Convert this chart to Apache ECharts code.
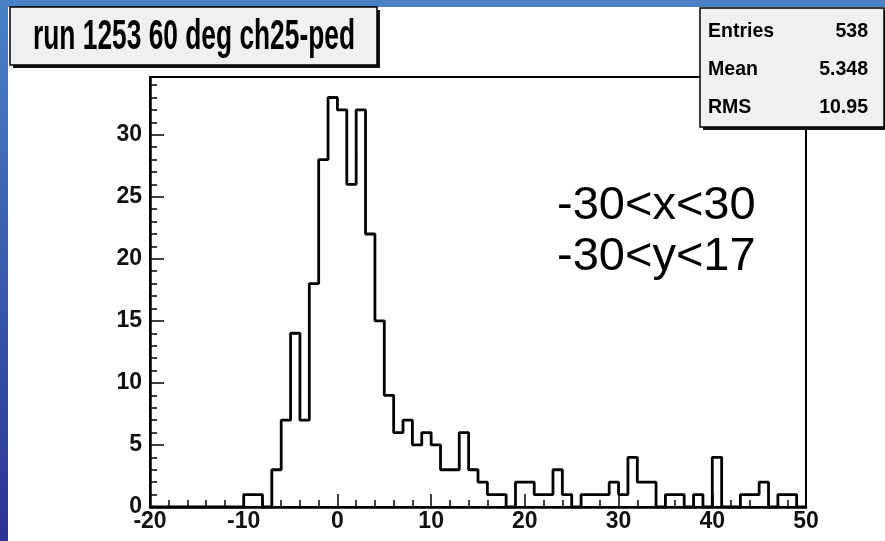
<!DOCTYPE html>
<html><head><meta charset="utf-8">
<script src="https://cdn.jsdelivr.net/npm/echarts@6/dist/echarts.min.js"></script>
<style>html,body{margin:0;padding:0;background:#fff;overflow:hidden}#c{width:885px;height:541px}</style>
</head><body><div id="c"></div>
<script>
// ---- data ----
const binEdges = [-20,-19,-18,-17,-16,-15,-14,-13,-12,-11,-10,-9,-8,-7,-6,-5,-4,-3,-2,-1,
  0,1,2,3,4,5,6,7,8,9,10,11,12,13,14,15,16,17,18,19,20,21,22,23,24,25,26,27,28,29,
  30,31,32,33,34,35,36,37,38,39,40,41,42,43,44,45,46,47,48,49,50];
const counts = [0,0,0,0,0,0,0,0,0,0, 1,1,0,3,7,14,7,18,28,33,
  32,26,32,22,15,9,6,7,5,6, 5,3,3,6,3,2,1,1,0,2,
  2,1,1,3,1,0,1,1,1,2, 1,4,2,2,0,1,1,0,1,0,
  4,0,0,1,1,2,0,1,1,0];
const xMin = -20, xMax = 50, xStep = 10;
const yMin = 0, yMax = 34.65, yStep = 5;
const titleText = 'run 1253 60 deg ch25-ped';
const statsLabels = ['Entries', 'Mean', 'RMS'];
const statsValues = ['538', '5.348', '10.95'];
const noteLines = ['-30<x<30', '-30<y<17'];

// ---- build ----
const histData = binEdges.map((e, i) => [e, counts[Math.min(i, counts.length - 1)]]);
const FONT = '"Liberation Sans", Arial, Helvetica, sans-serif';

function textWidth(font, s) {
  const c = document.createElement('canvas').getContext('2d');
  c.font = font; return c.measureText(s).width;
}
const titleFont = 'bold 43px ' + FONT;
const titleScale = 322 / textWidth(titleFont, titleText);
const statFont = 'bold 21px ' + FONT;

const chart = echarts.init(document.getElementById('c'), null, {renderer: 'canvas'});

const graphics = [
  {type: 'rect', z: -10, shape: {x: 0, y: 0, width: 885, height: 541},
    style: {fill: new echarts.graphic.LinearGradient(0, 0, 0, 1, [
      {offset: 0, color: '#4a82c6'}, {offset: 1, color: '#2c3494'}])}},
  {type: 'rect', z: -9, shape: {x: 8, y: 7, width: 877, height: 534}, style: {fill: '#ffffff'}},
  // title box
  {type: 'rect', z: 10, shape: {x: 13, y: 10, width: 367, height: 58}, style: {fill: '#111'}},
  {type: 'rect', z: 11, shape: {x: 10, y: 7, width: 367, height: 58}, style: {fill: '#f0f0f0', stroke: '#000', lineWidth: 1.5}},
  {type: 'text', z: 12, x: 33, y: 37, scaleX: titleScale,
    style: {text: titleText, font: titleFont, fill: '#000', textAlign: 'left', textVerticalAlign: 'middle'}},
  // stats box
  {type: 'rect', z: 10, shape: {x: 703, y: 11, width: 184, height: 119}, style: {fill: '#111'}},
  {type: 'rect', z: 11, shape: {x: 700, y: 8, width: 184, height: 119}, style: {fill: '#f0f0f0', stroke: '#000', lineWidth: 1.5}}
];
const rowY = [31, 69, 107];
statsLabels.forEach((s, i) => {
  graphics.push({type: 'text', z: 12, x: 708, y: rowY[i], scaleX: 0.93,
    style: {text: s, font: statFont, fill: '#000', textAlign: 'left', textVerticalAlign: 'middle'}});
  graphics.push({type: 'text', z: 12, x: 868, y: rowY[i], scaleX: 0.93,
    style: {text: statsValues[i], font: statFont, fill: '#000', textAlign: 'right', textVerticalAlign: 'middle'}});
});
const noteY = [206, 257];
noteLines.forEach((s, i) => {
  graphics.push({type: 'text', z: 12, x: 557, y: noteY[i],
    style: {text: s, font: '47px ' + FONT, fill: '#000', textAlign: 'left', textVerticalAlign: 'middle'}});
});

const lab = {color: '#111', fontSize: 23, fontWeight: 'bold', fontFamily: FONT};
chart.setOption({
  animation: false,
  backgroundColor: 'transparent',
  grid: {left: 150, right: 79, top: 77, bottom: 34, show: true, borderColor: '#000', borderWidth: 2, backgroundColor: 'transparent'},
  xAxis: {type: 'value', min: xMin, max: xMax, interval: xStep,
    axisLine: {onZero: false, lineStyle: {color: '#000', width: 2.5}},
    axisTick: {inside: true, length: 13, lineStyle: {color: '#000', width: 1.5}},
    minorTick: {show: true, splitNumber: 5, length: 7, lineStyle: {color: '#000', width: 1.5}},
    axisLabel: Object.assign({margin: 3}, lab),
    splitLine: {show: false}},
  yAxis: [
    {type: 'value', min: yMin, max: yMax, interval: yStep, position: 'left',
      axisLine: {show: true, onZero: false, lineStyle: {color: '#000', width: 2.5}},
      axisTick: {inside: true, length: 14, lineStyle: {color: '#000', width: 1.5}},
      axisLabel: Object.assign({margin: 8, showMaxLabel: false}, lab),
      splitLine: {show: false}},
    {type: 'value', min: yMin, max: yMax, interval: 1, position: 'left', offset: 0,
      axisLine: {show: false, onZero: false},
      axisTick: {inside: true, length: 7, lineStyle: {color: '#000', width: 1.5}},
      axisLabel: {show: false},
      splitLine: {show: false}}
  ],
  series: [{
    type: 'line', step: 'end', data: histData, symbol: 'none', yAxisIndex: 0,
    lineStyle: {color: '#000', width: 2.8}, z: 5
  }],
  graphic: graphics
});
</script></body></html>
